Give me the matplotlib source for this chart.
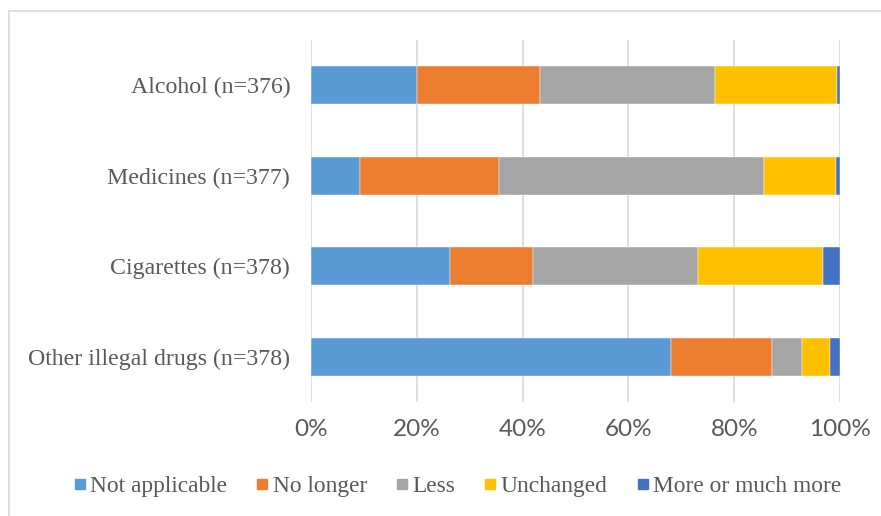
import matplotlib
matplotlib.use("Agg")
import matplotlib.pyplot as plt
from matplotlib.lines import Line2D
import numpy as np

categories = ["Alcohol (n=376)", "Medicines (n=377)", "Cigarettes (n=378)", "Other illegal drugs (n=378)"]
series_names = ["Not applicable", "No longer", "Less", "Unchanged", "More or much more"]
not_applicable = [20.0, 9.2, 26.3, 68.0]
no_longer = [23.2, 26.4, 15.7, 19.1]
less = [33.1, 50.1, 31.1, 5.7]
unchanged = [23.2, 13.6, 23.6, 5.4]
more = [0.5, 0.7, 3.3, 1.8]
tick_values = [0, 20, 40, 60, 80, 100]
tick_labels = ["0%", "20%", "40%", "60%", "80%", "100%"]

colors = ["#5B9BD5", "#ED7D31", "#A5A5A5", "#FFC000", "#4472C4"]
text_color = "#595959"
serif = ["Liberation Serif", "DejaVu Serif"]

W, H = 881, 516
fig = plt.figure(figsize=(W / 100, H / 100), dpi=100)
ax = fig.add_axes([311 / W, 1 - 402 / H, (840 - 311) / W, (402 - 40) / H])

y = np.arange(len(categories))
left = np.zeros(len(categories))
series = [not_applicable, no_longer, less, unchanged, more]
for name, vals, c in zip(series_names, series, colors):
    ax.barh(y, vals, left=left, height=0.42, color=c, label=name, zorder=3,
            edgecolor="white", linewidth=0.3)
    left = left + np.array(vals)

ax.set_xlim(0, 100)
ax.set_ylim(len(categories) - 0.5, -0.5)
ax.set_yticks(y)
ax.set_yticklabels(categories, fontfamily=serif, fontsize=17.2, color=text_color)
ax.set_xticks(tick_values)
ax.set_xticklabels(tick_labels, fontfamily="Lato", fontsize=17.5, color=text_color)
ax.tick_params(axis="y", length=0, pad=15)
ax.tick_params(axis="x", length=0, pad=12)
ax.grid(axis="x", color="#D9D9D9", linewidth=1.2, zorder=0)
for s in ax.spines.values():
    s.set_visible(False)

handles = [Line2D([], [], marker="s", linestyle="none", markersize=7.5,
                  markerfacecolor=c, markeredgecolor=c) for c in colors]
fig.legend(handles, series_names, loc="center", bbox_to_anchor=(457 / W, 1 - 486 / H),
           ncol=5, frameon=False, prop={"family": serif, "size": 16.8},
           labelcolor=text_color, handlelength=0.6, handletextpad=0.15,
           columnspacing=1.2)

# chart frame
fig.add_artist(Line2D([8.5 / W, 1.0], [1 - 11 / H, 1 - 11 / H], transform=fig.transFigure,
                      color="#D9D9D9", linewidth=1.2))
fig.add_artist(Line2D([8.5 / W, 8.5 / W], [0, 1 - 11 / H], transform=fig.transFigure,
                      color="#D9D9D9", linewidth=1.2))

fig.savefig("out.png", dpi=100)
